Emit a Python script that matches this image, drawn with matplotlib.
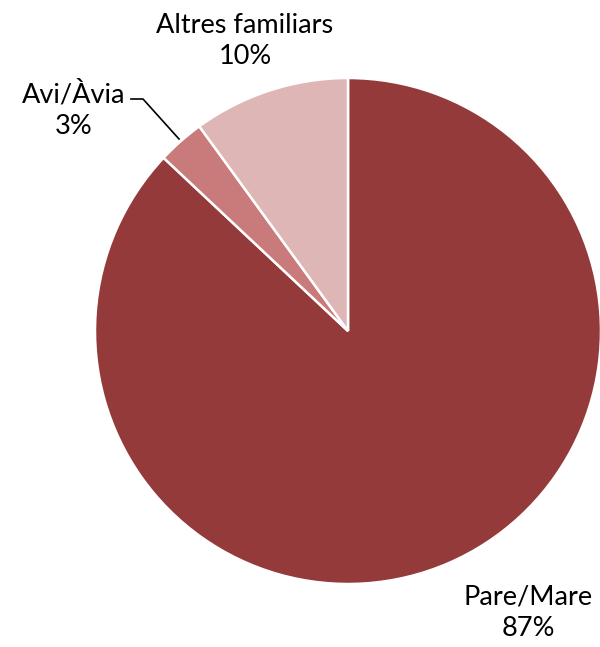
import matplotlib.pyplot as plt

labels = ['Pare/Mare', 'Avi/Àvia', 'Altres familiars']
values = [87, 3, 10]
colors = ['#953a3a', '#c97a7a', '#dfb6b6']

W, H = 600, 647
fig = plt.figure(figsize=(W / 100, H / 100), dpi=100, facecolor='white')
ax = fig.add_axes([0, 0, 1, 1])

cx, cy, r = 348, H - 331, 253
ax.pie(values, colors=colors, startangle=90, counterclock=False,
       center=(cx, cy), radius=r, frame=True,
       wedgeprops=dict(edgecolor='white', linewidth=1.8))
ax.set_xlim(0, W)
ax.set_ylim(0, H)
ax.set_aspect('equal')
ax.axis('off')

font = dict(family='Lato', fontsize=19.5, color='black', ha='center', va='center', linespacing=1.32)
ax.text(528, H - 613, f"{labels[0]}\n{values[0]}%", **font)
ax.text(74, H - 110, f"{labels[1]}\n{values[1]}%", **font)
ax.text(245, H - 41, f"{labels[2]}\n{values[2]}%", **font)

# leader line for the small slice
ax.plot([131, 143, 179], [H - 99, H - 99, H - 139], color='black', lw=1.2)

fig.savefig('out.png', dpi=100, facecolor='white')
